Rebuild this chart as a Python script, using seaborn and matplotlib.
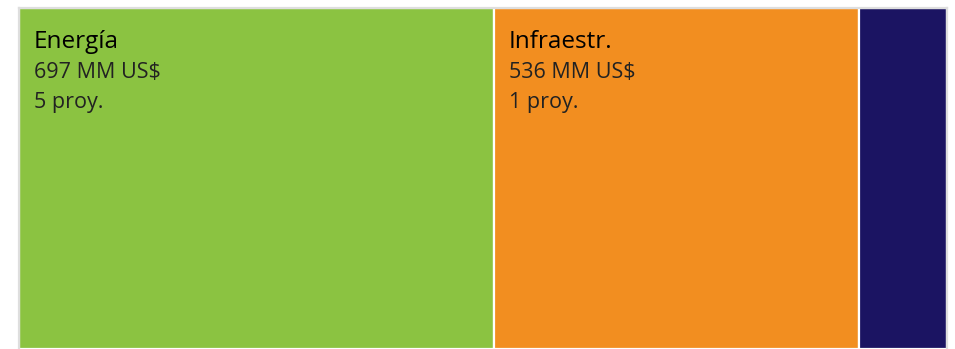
import numpy as np
import matplotlib
matplotlib.use("Agg")
import matplotlib.pyplot as plt
import seaborn as sns

# Investment by sector (millions of US$) and number of projects
sectors = ["Energía", "Infraestr.", "Otros"]
amounts = [697, 536, 129]
projects = [5, 1, 1]
colors = ["#8BC341", "#F28E20", "#1B1462"]

sns.set_theme(style="white")
plt.rcParams["font.family"] = ["Open Sans", "DejaVu Sans"]

fig = plt.figure(figsize=(9.55, 3.49), dpi=100)
ax = fig.add_axes([19 / 955, 0, (947 - 19) / 955, (349 - 8) / 349])

total = sum(amounts)
lefts = np.concatenate([[0], np.cumsum(amounts)[:-1]])
ax.bar(lefts, [1] * len(amounts), width=amounts, bottom=0, align="edge",
       color=colors, edgecolor="white", linewidth=1.6)

ax.set_xlim(0, total)
ax.set_ylim(0, 1)
ax.set_xticks([])
ax.set_yticks([])
for side, spine in ax.spines.items():
    spine.set_color("#dedede")
    spine.set_linewidth(1.6)
ax.spines["bottom"].set_visible(False)

# Labels only where the tile is wide enough to hold them
for left, amt, name, n in zip(lefts, amounts, sectors, projects):
    if amt / total < 0.2:
        continue
    x = left + total * 15 / 928
    ax.text(x, 1 - 34 / 341, name, ha="left", va="center", fontsize=17.5,
            color="#000000", fontweight="normal")
    ax.text(x, 1 - 64.5 / 341, f"{amt} MM US$", ha="left", va="center",
            fontsize=15.5, color="#222222")
    ax.text(x, 1 - 94.5 / 341, f"{n} proy.", ha="left", va="center",
            fontsize=15.5, color="#222222")

fig.savefig("out.png", dpi=100)
